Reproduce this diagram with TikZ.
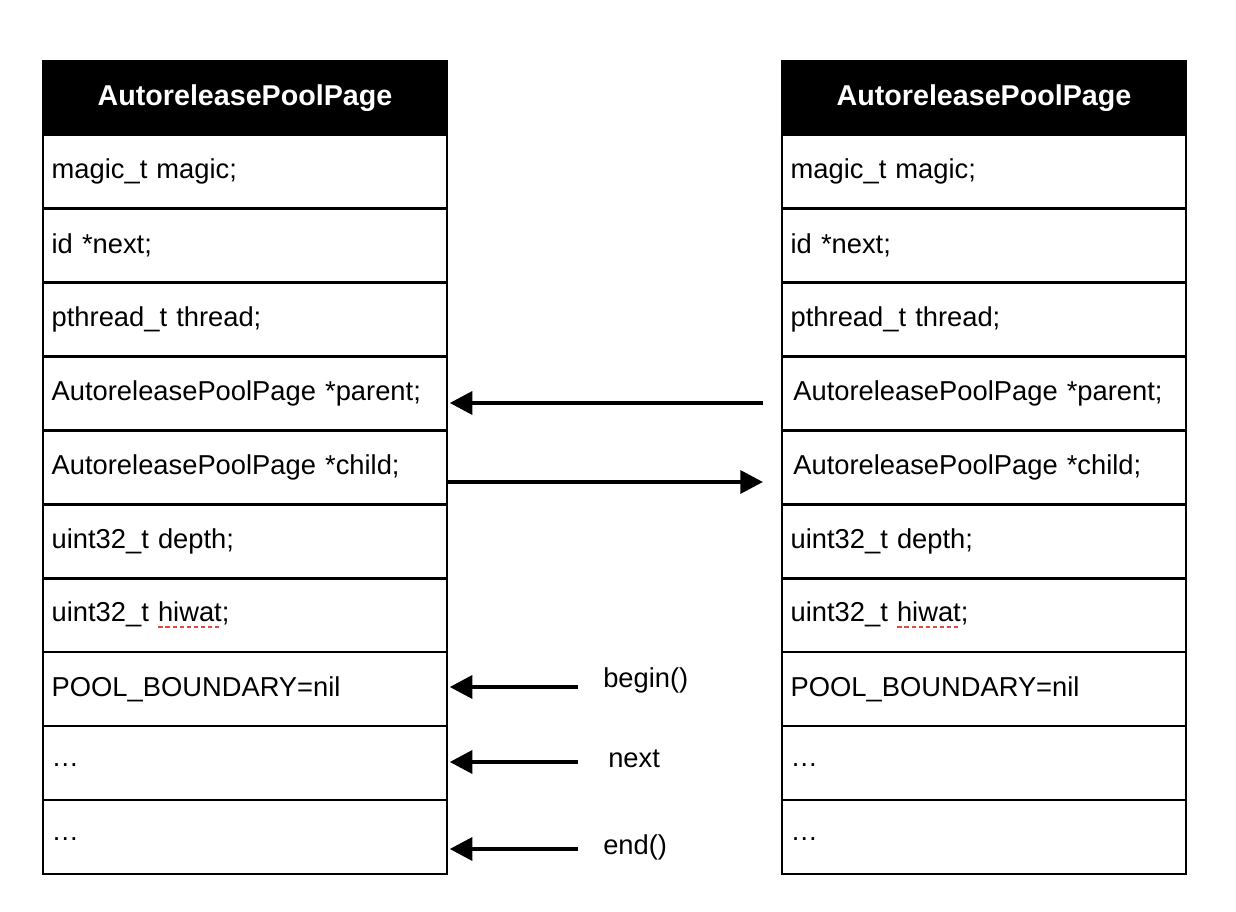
\documentclass[tikz,border=0pt]{standalone}
\usepackage{fontspec}
\setmainfont{Liberation Sans}
\usetikzlibrary{arrows.meta,positioning}

\definecolor{spellred}{HTML}{E5483F}
% red dashed spell-check mark under a word
\newcommand{\spellmark}[1]{\leavevmode\setbox0\hbox{#1}\rlap{\raisebox{-5pt}{\hbox to \wd0{\color{spellred}\xleaders\hbox to 5pt{\rule{3.5pt}{2.2pt}\hfil}\hfil}}}#1}
% dots sitting a bit low, as in the cells
\newcommand{\lowdots}{\raisebox{-5pt}{…}}

\tikzset{
  cell/.style={draw, line width=1.9pt, outer sep=0pt, anchor=north west,
    minimum width=303pt, minimum height=55.4pt, text width=290pt,
    inner xsep=6.5pt, align=left, font=\fontsize{20.5}{24}\selectfont},
  header/.style={cell, fill=black, text=white, align=center,
    font=\bfseries\fontsize{21.5}{25}\selectfont},
  ptr/.style={line width=3.3pt, -{Triangle[length=17pt,width=17pt]}},
  lbl/.style={anchor=west, inner sep=0pt, font=\fontsize{20.5}{24}\selectfont},
}

\begin{document}
\begin{tikzpicture}[x=0.75pt, y=-0.75pt]
  \useasboundingbox (0,0) rectangle (1236,912);

  % Left page
  \node[header] (Lh) at (43,61) {AutoreleasePoolPage};
  \foreach \txt [count=\i] in {{magic\_t magic;}, {id *next;}, {pthread\_t thread;},
      {AutoreleasePoolPage *parent;}, {AutoreleasePoolPage *child;}, {uint32\_t depth;},
      {uint32\_t \spellmark{hiwat};}, {POOL\_BOUNDARY=nil}, {\lowdots}, {\lowdots}}
    \node[cell] (L\i) at (43,{61+73.9*\i}) {\txt};

  % Right page
  \node[header] (Rh) at (782,61) {AutoreleasePoolPage};
  \foreach \txt [count=\i] in {{magic\_t magic;}, {id *next;}, {pthread\_t thread;},
      {\hspace{2pt}AutoreleasePoolPage *parent;}, {\hspace{2pt}AutoreleasePoolPage *child;}, {uint32\_t depth;},
      {uint32\_t \spellmark{hiwat};}, {POOL\_BOUNDARY=nil}, {\lowdots}, {\lowdots}}
    \node[cell] (R\i) at (782,{61+73.9*\i}) {\txt};

  % parent / child links
  \coordinate (pstart) at (763,403);
  \coordinate (cend) at (763,482);
  \draw[ptr, shorten >=2pt] (pstart) -- (pstart -| L4.east);
  \draw[ptr] (cend -| L5.east) -- (cend);

  % begin, next, end
  \node[lbl] (begin) at (603,680) {begin()};
  \node[lbl] (next) at (608,759) {next};
  \node[lbl] (end) at (603,847) {end()};
  \coordinate (bstart) at (578,687);
  \coordinate (nstart) at (578,762);
  \coordinate (estart) at (578,849);
  \draw[ptr, shorten >=2pt] (bstart) -- (bstart -| L8.east);
  \draw[ptr, shorten >=2pt] (nstart) -- (nstart -| L9.east);
  \draw[ptr, shorten >=2pt] (estart) -- (estart -| L10.east);
\end{tikzpicture}
\end{document}
